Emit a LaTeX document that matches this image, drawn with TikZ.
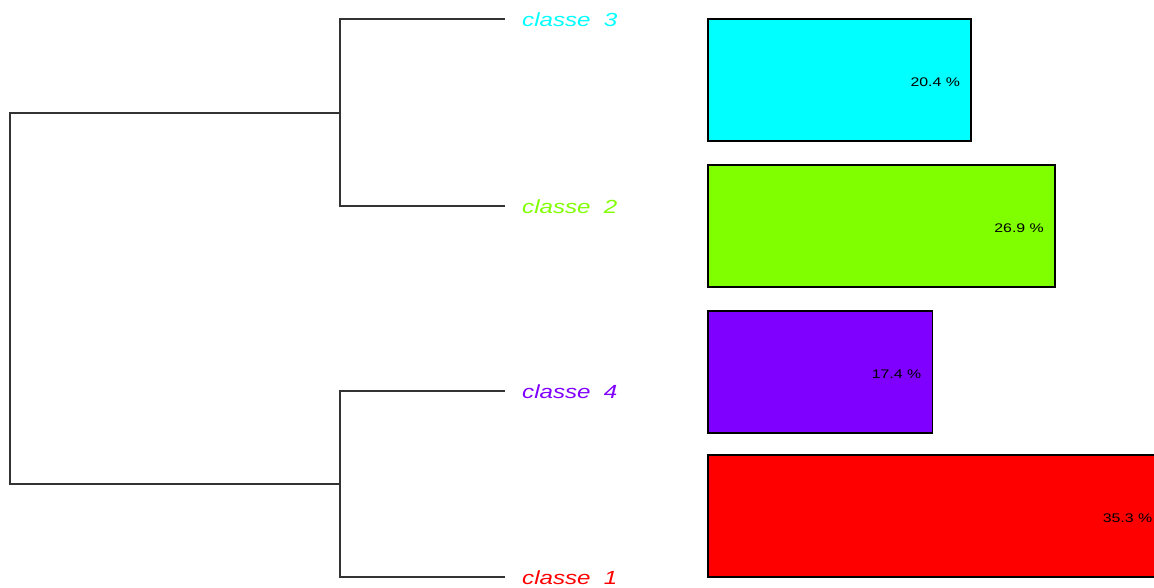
\documentclass[tikz,border=0pt]{standalone}
\usepackage{fontspec}
\newfontfamily\classfont[FakeStretch=1.27]{Liberation Sans}
\definecolor{cl1}{HTML}{FF0000}
\definecolor{cl2}{HTML}{80FF00}
\definecolor{cl3}{HTML}{00FFFF}
\definecolor{cl4}{HTML}{8000FF}
\tikzset{
	branch/.style={draw=black!80, line width=1.4pt},
	leaf/.style={anchor=west, inner sep=0pt, font=\classfont\itshape\fontsize{19}{19}\selectfont},
	pct/.style={anchor=east, inner sep=0pt, font=\classfont\fontsize{12.5}{12.5}\selectfont}
}
\begin{document}
\begin{tikzpicture}[x=1pt, y=-1pt]
	\useasboundingbox (0,0) rectangle (1154,587);
	\clip (0,0) rectangle (1154,587);
	\def\xl{505}
	\def\xm{340}
	\def\x0{708}
	% leaves and merges
	\coordinate (l3) at (\xl,19);
	\coordinate (l2) at (\xl,206);
	\coordinate (l4) at (\xl,391);
	\coordinate (l1) at (\xl,577);
	\coordinate (m32) at (\xm,113);
	\coordinate (m41) at (\xm,484);
	\coordinate (root) at (10,298.5);
	\draw [branch] (l3) -| (m32) |- (l2);
	\draw [branch] (l4) -| (m41) |- (l1);
	\draw [branch] (m32) -| (root) |- (m41);
	\foreach \i/\y in {3/19, 2/206, 4/391, 1/577} {
		% class labels
		\node [leaf, text=cl\i] (lab\i) at (522, \y+1) {classe\ \ \i};
	}
	\foreach \i/\y/\p in {3/19/20.4, 2/165/26.9, 4/311/17.4, 1/455/35.3} {
		% size blocks
		\draw [line width=1.4pt, fill=cl\i] (\x0, \y) rectangle ++(\p*12.9, 122);
		\node [pct] (pc\i) at (\x0+\p*12.9-11, \y+63) {\p\ \%};
	}
\end{tikzpicture}
\end{document}
